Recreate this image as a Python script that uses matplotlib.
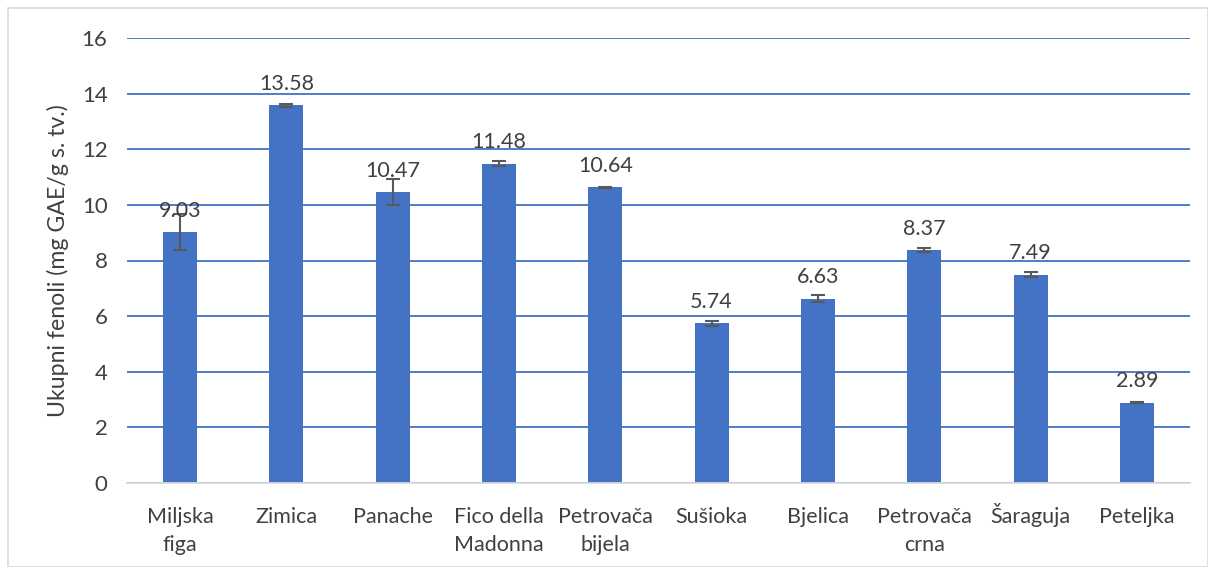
import numpy as np
import matplotlib.pyplot as plt
from matplotlib.patches import Rectangle

plt.rcParams['font.family'] = ['Lato', 'DejaVu Sans']

categories = ['Miljska\nfiga', 'Zimica', 'Panache', 'Fico della\nMadonna', 'Petrovača\nbijela',
              'Sušioka', 'Bjelica', 'Petrovača\ncrna', 'Šaraguja', 'Peteljka']
values = [9.03, 13.58, 10.47, 11.48, 10.64, 5.74, 6.63, 8.37, 7.49, 2.89]
errors = [0.64, 0.05, 0.47, 0.10, 0.02, 0.09, 0.14, 0.07, 0.09, 0.02]
yticks = [0, 2, 4, 6, 8, 10, 12, 14, 16]

bar_color = '#4472C4'
grid_color = '#4472C4'
text_color = '#404040'

fig = plt.figure(figsize=(12.08, 5.67), dpi=100)
ax = fig.add_axes([127 / 1208, 1 - 483 / 567, 1063 / 1208, 445 / 567])

x = np.arange(len(categories))
ax.bar(x, values, width=0.32, color=bar_color, zorder=3)
ax.errorbar(x, values, yerr=errors, fmt='none', ecolor='#595959', elinewidth=1.5,
            capsize=5, capthick=1.5, zorder=4)

for xi, v in zip(x, values):
    ax.annotate(f'{v:.2f}', (xi, v), xytext=(0, 11), textcoords='offset points',
                ha='center', va='baseline', fontsize=15.5, color=text_color, zorder=5)

# category labels, line by line so the baselines line up (Š would push a top-aligned label down)
for xi, cat in zip(x, categories):
    for i, line in enumerate(cat.split('\n')):
        ax.annotate(line, (xi, 0), xycoords=('data', 'axes fraction'),
                    xytext=(0, -28.8 - 20.2 * i), textcoords='offset points',
                    ha='center', va='baseline', fontsize=15.5, color=text_color,
                    annotation_clip=False)

ax.set_xlim(-0.5, len(categories) - 0.5)
ax.set_ylim(0, 16)
ax.set_yticks(yticks)
ax.set_xticks(x)
ax.set_xticklabels([])
ax.tick_params(axis='y', labelsize=16, colors=text_color, length=0, pad=14)
ax.tick_params(axis='x', length=0)
ax.yaxis.grid(True, color=grid_color, linewidth=1.3, zorder=0)
ax.set_axisbelow(True)
for s in ['top', 'right', 'left']:
    ax.spines[s].set_visible(False)
ax.spines['bottom'].set_color('#D9D9D9')
ax.spines['bottom'].set_linewidth(1.3)
ax.spines['bottom'].set_zorder(3.5)

ax.set_ylabel('Ukupni fenoli (mg GAE/g s. tv.)', fontsize=16.7, color=text_color, labelpad=9)

fig.patches.append(Rectangle((8 / 1208, 0), 1 - 8 / 1208, 1 - 8 / 567, transform=fig.transFigure,
                             fill=False, edgecolor='#D9D9D9', linewidth=1.2))

fig.savefig('out.png', dpi=100)
